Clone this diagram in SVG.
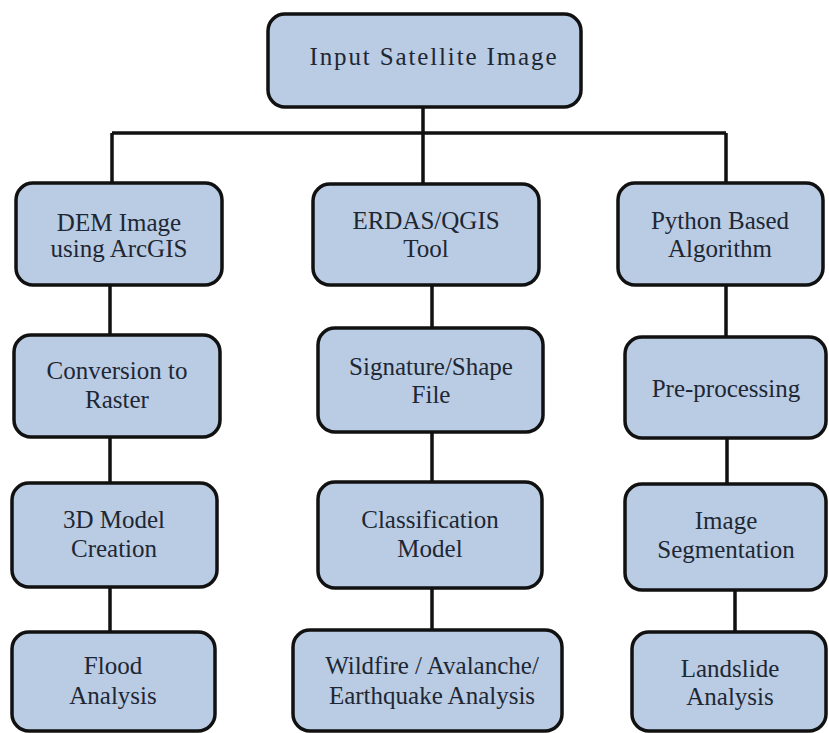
<svg xmlns="http://www.w3.org/2000/svg" width="829" height="733" viewBox="0 0 829 733">
<style>
.box{fill:#b9cce4;stroke:#111;stroke-width:3.5}
.t{font-size:25px;fill:#1e2733;text-anchor:middle}
.c{stroke:#111;stroke-width:3.5;fill:none}
</style>
<rect width="829" height="733" fill="#fff"/>
<g id="connectors">
<path class="c" d="M423 107V133M112 133H726M112 133V183M423 133V184M726 133V183"/>
<path class="c" d="M110 285V335M110 437V483M110 587V632"/>
<path class="c" d="M432 285V328M432 432V482M432 588V630"/>
<path class="c" d="M726 285V337M727 438V484M735 590V632"/>
</g>
<g font-family="Liberation Serif, DejaVu Serif, serif">
<g id="n_input"><rect class="box" x="268" y="14" width="313" height="93" rx="17"/><text class="t" x="433" y="65" textLength="247" lengthAdjust="spacing">Input Satellite Image</text></g>
<g id="n_dem"><rect class="box" x="16" y="183" width="206" height="102" rx="17"/><text class="t" x="119" y="231">DEM Image</text><text class="t" x="119" y="257">using ArcGIS</text></g>
<g id="n_erdas"><rect class="box" x="313" y="184" width="226" height="101" rx="17"/><text class="t" x="426" y="229">ERDAS/QGIS</text><text class="t" x="426" y="257">Tool</text></g>
<g id="n_python"><rect class="box" x="618" y="183" width="205" height="102" rx="17"/><text class="t" x="720" y="229">Python Based</text><text class="t" x="720" y="257">Algorithm</text></g>
<g id="n_raster"><rect class="box" x="14" y="335" width="206" height="102" rx="17"/><text class="t" x="117" y="379">Conversion to</text><text class="t" x="117" y="408">Raster</text></g>
<g id="n_sig"><rect class="box" x="318" y="328" width="225" height="104" rx="17"/><text class="t" x="431" y="375">Signature/Shape</text><text class="t" x="431" y="403">File</text></g>
<g id="n_pre"><rect class="box" x="625" y="337" width="201" height="101" rx="17"/><text class="t" x="726" y="397">Pre-processing</text></g>
<g id="n_3d"><rect class="box" x="12" y="483" width="205" height="104" rx="17"/><text class="t" x="114" y="528">3D Model</text><text class="t" x="114" y="557">Creation</text></g>
<g id="n_class"><rect class="box" x="318" y="482" width="224" height="106" rx="17"/><text class="t" x="430" y="528">Classification</text><text class="t" x="430" y="557">Model</text></g>
<g id="n_seg"><rect class="box" x="625" y="484" width="201" height="106" rx="17"/><text class="t" x="726" y="529">Image</text><text class="t" x="726" y="558">Segmentation</text></g>
<g id="n_flood"><rect class="box" x="12" y="632" width="203" height="99" rx="17"/><text class="t" x="113" y="674">Flood</text><text class="t" x="113" y="704">Analysis</text></g>
<g id="n_wild"><rect class="box" x="293" y="630" width="269" height="101" rx="17"/><text class="t" x="432" y="674">Wildfire / Avalanche/</text><text class="t" x="432" y="704">Earthquake Analysis</text></g>
<g id="n_land"><rect class="box" x="632" y="632" width="194" height="99" rx="17"/><text class="t" x="730" y="677">Landslide</text><text class="t" x="730" y="705">Analysis</text></g>
</g>
</svg>
